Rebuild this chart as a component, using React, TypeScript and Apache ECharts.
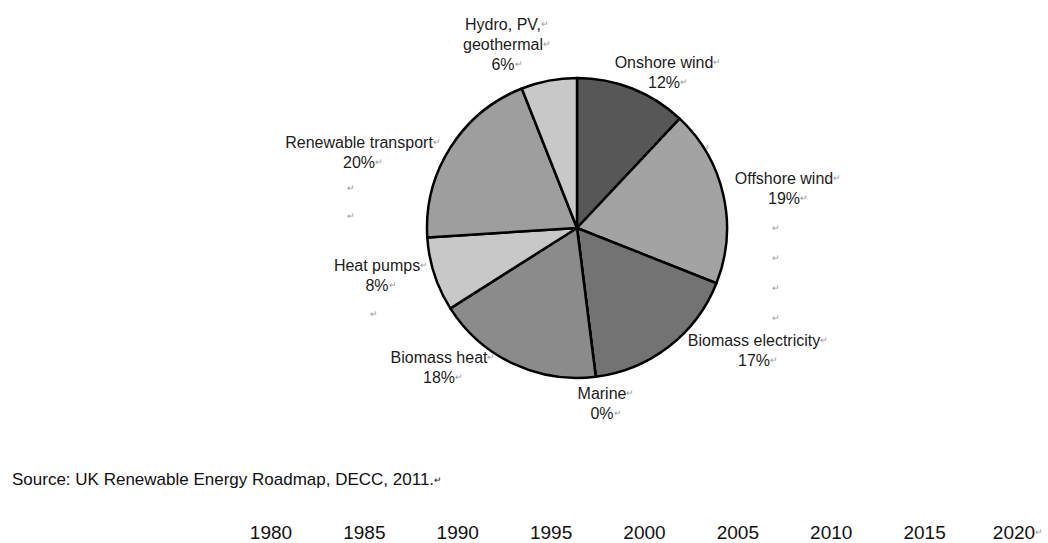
import React, { useEffect, useRef } from "react";
import * as echarts from "echarts";

const categories = [
  "Onshore wind",
  "Offshore wind",
  "Biomass electricity",
  "Marine",
  "Biomass heat",
  "Heat pumps",
  "Renewable transport",
  "Hydro, PV,\ngeothermal",
];
const shares = [12, 19, 17, 0, 18, 8, 20, 6];
const sliceColors = ["#575757", "#a3a3a3", "#737373", "#7a7a7a", "#8b8b8b", "#c8c8c8", "#9e9e9e", "#c8c8c8"];
const years = ["1980", "1985", "1990", "1995", "2000", "2005", "2010", "2015", "2020"];
const sourceNote = "Source: UK Renewable Energy Roadmap, DECC, 2011.";

// label anchor positions (centre x, top y) for each slice label
const labelPos: [number, number][] = [
  [668, 52],
  [788, 168],
  [758, 330],
  [606, 383],
  [443, 347],
  [381, 255],
  [363, 132],
  [507, 14],
];
// extra empty-paragraph marks below some labels
const extraMarks: [number, number][] = [
  [706, 148],
  [776, 228],
  [776, 258],
  [776, 288],
  [776, 318],
  [374, 314],
  [351, 188],
  [351, 216],
];

const FONT = "'Liberation Sans', Arial, sans-serif";

export default function App() {
  const ref = useRef<HTMLDivElement>(null);
  useEffect(() => {
    document.body.style.margin = "0";
    if (!ref.current) return;
    const chart = echarts.init(ref.current, null, { renderer: "svg" });
    const mark = { fontSize: 9, color: "#9a9a9a", fontFamily: FONT };
    chart.setOption({
      animation: false,
      backgroundColor: "#ffffff",
      grid: { left: 271, right: 30, top: 520, height: 1 },
      xAxis: {
        type: "category",
        data: years,
        boundaryGap: false,
        axisLine: { show: false },
        axisTick: { show: false },
        axisLabel: {
          interval: 0,
          margin: 3,
          fontSize: 19,
          lineHeight: 16,
          color: "#111111",
          fontFamily: FONT,
          formatter: (v: string, i: number) => (i === years.length - 1 ? v + "{m|↵}" : v),
          rich: { m: { ...mark, lineHeight: 16 } },
        },
      },
      yAxis: { type: "value", show: false, min: 0, max: 1 },
      graphic: [
        {
          type: "text",
          left: 12,
          top: 471,
          style: {
            text: sourceNote + "{m|↵}",
            fontSize: 17,
            fill: "#111111",
            fontFamily: FONT,
            rich: { m: mark },
          },
        },
        ...extraMarks.map(([x, y]) => ({
          type: "text",
          x,
          y,
          style: { text: "↵", fontSize: 9, fill: "#9a9a9a", align: "center", verticalAlign: "middle" },
        })),
      ],
      series: [
        {
          type: "pie",
          center: [577, 228],
          radius: 150,
          startAngle: 90,
          clockwise: true,
          minAngle: 0,
          avoidLabelOverlap: false,
          itemStyle: { borderColor: "#000000", borderWidth: 2.5 },
          label: {
            show: true,
            position: "outside",
            fontSize: 16,
            lineHeight: 20,
            color: "#1c1c1c",
            fontFamily: FONT,
            align: "center",
            formatter: (p: any) => {
              const lines = String(p.name).split("\n");
              return [...lines, p.value + "%"].map((l) => `{t|${l}}{m|↵}`).join("\n");
            },
            rich: {
              t: { fontSize: 16, lineHeight: 20, color: "#1c1c1c", fontFamily: FONT },
              m: { ...mark, lineHeight: 20 },
            },
          },
          labelLine: { show: false },
          labelLayout: (params: any) => {
            const pos = labelPos[params.dataIndex];
            return { x: pos[0], y: pos[1], align: "center", verticalAlign: "top" };
          },
          emphasis: { disabled: true },
          data: categories.map((name, i) => ({
            name,
            value: shares[i],
            itemStyle: { color: sliceColors[i] },
          })),
        },
      ],
    });
    return () => chart.dispose();
  }, []);
  return <div ref={ref} style={{ width: 1048, height: 543 }} />;
}
